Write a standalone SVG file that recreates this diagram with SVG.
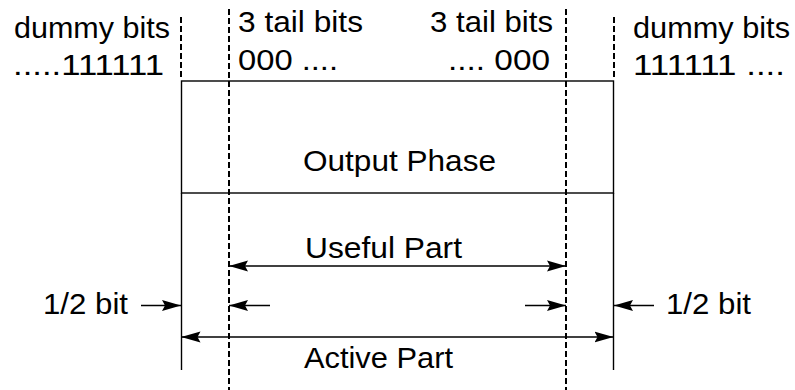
<svg xmlns="http://www.w3.org/2000/svg" width="795" height="390" viewBox="0 0 795 390">
<style>
text{font-family:"Liberation Sans",Arial,sans-serif;font-size:29px;fill:#000}
.solid{stroke:#000;stroke-width:1.4;fill:none}
.dash{stroke:#000;stroke-width:2;stroke-dasharray:6,3;fill:none}
.arr{stroke:#000;stroke-width:1.4;fill:none;marker-end:url(#ah)}
.arr2{stroke:#000;stroke-width:1.4;fill:none;marker-end:url(#ah);marker-start:url(#ah)}
</style>
<defs>
<marker id="ah" viewBox="0 0 19 12" refX="19" refY="6" markerWidth="19" markerHeight="12" markerUnits="userSpaceOnUse" orient="auto-start-reverse">
<path d="M0,0.5 L19,6 L0,11.5 L3,6 z" fill="#000"/>
</marker>
</defs>
<rect width="795" height="390" fill="#fff"/>
<g id="labels-top">
<text x="14" y="38" textLength="156" lengthAdjust="spacingAndGlyphs">dummy bits</text>
<text x="13" y="75" textLength="151" lengthAdjust="spacingAndGlyphs">.....111111</text>
<text x="238" y="32" textLength="125" lengthAdjust="spacingAndGlyphs">3 tail bits</text>
<text x="238" y="70" textLength="100" lengthAdjust="spacingAndGlyphs">000 ....</text>
<text x="430" y="32" textLength="123" lengthAdjust="spacingAndGlyphs">3 tail bits</text>
<text x="448" y="70" textLength="102" lengthAdjust="spacingAndGlyphs">.... 000</text>
<text x="633" y="38" textLength="157" lengthAdjust="spacingAndGlyphs">dummy bits</text>
<text x="633" y="75" textLength="152" lengthAdjust="spacingAndGlyphs">111111 ....</text>
</g>
<g id="output-phase">
<rect class="solid" x="181.5" y="81" width="432" height="112"/>
<text x="303" y="171" textLength="193" lengthAdjust="spacingAndGlyphs">Output Phase</text>
</g>
<g id="guides">
<line class="dash" x1="229" y1="9" x2="229" y2="390"/>
<line class="dash" x1="566" y1="9" x2="566" y2="390"/>
<line class="dash" x1="181" y1="17" x2="181" y2="78"/>
<line class="dash" x1="614" y1="17" x2="614" y2="78"/>
<line class="solid" x1="181.5" y1="193" x2="181.5" y2="370"/>
<line class="solid" x1="613.5" y1="193" x2="613.5" y2="370"/>
</g>
<g id="connectors">
<line class="arr2" x1="229" y1="266" x2="566" y2="266"/>
<line class="arr" x1="141" y1="305.5" x2="181" y2="305.5"/>
<line class="arr" x1="270" y1="305.5" x2="229" y2="305.5"/>
<line class="arr" x1="525" y1="305.5" x2="566" y2="305.5"/>
<line class="arr" x1="654" y1="305.5" x2="614" y2="305.5"/>
<line class="arr2" x1="181.5" y1="337" x2="613.5" y2="337"/>
</g>
<g id="labels-bottom">
<text x="305" y="258" textLength="157" lengthAdjust="spacingAndGlyphs">Useful Part</text>
<text x="43" y="314" textLength="85" lengthAdjust="spacingAndGlyphs">1/2 bit</text>
<text x="666" y="314" textLength="85" lengthAdjust="spacingAndGlyphs">1/2 bit</text>
<text x="304" y="368" textLength="149" lengthAdjust="spacingAndGlyphs">Active Part</text>
</g>
</svg>
